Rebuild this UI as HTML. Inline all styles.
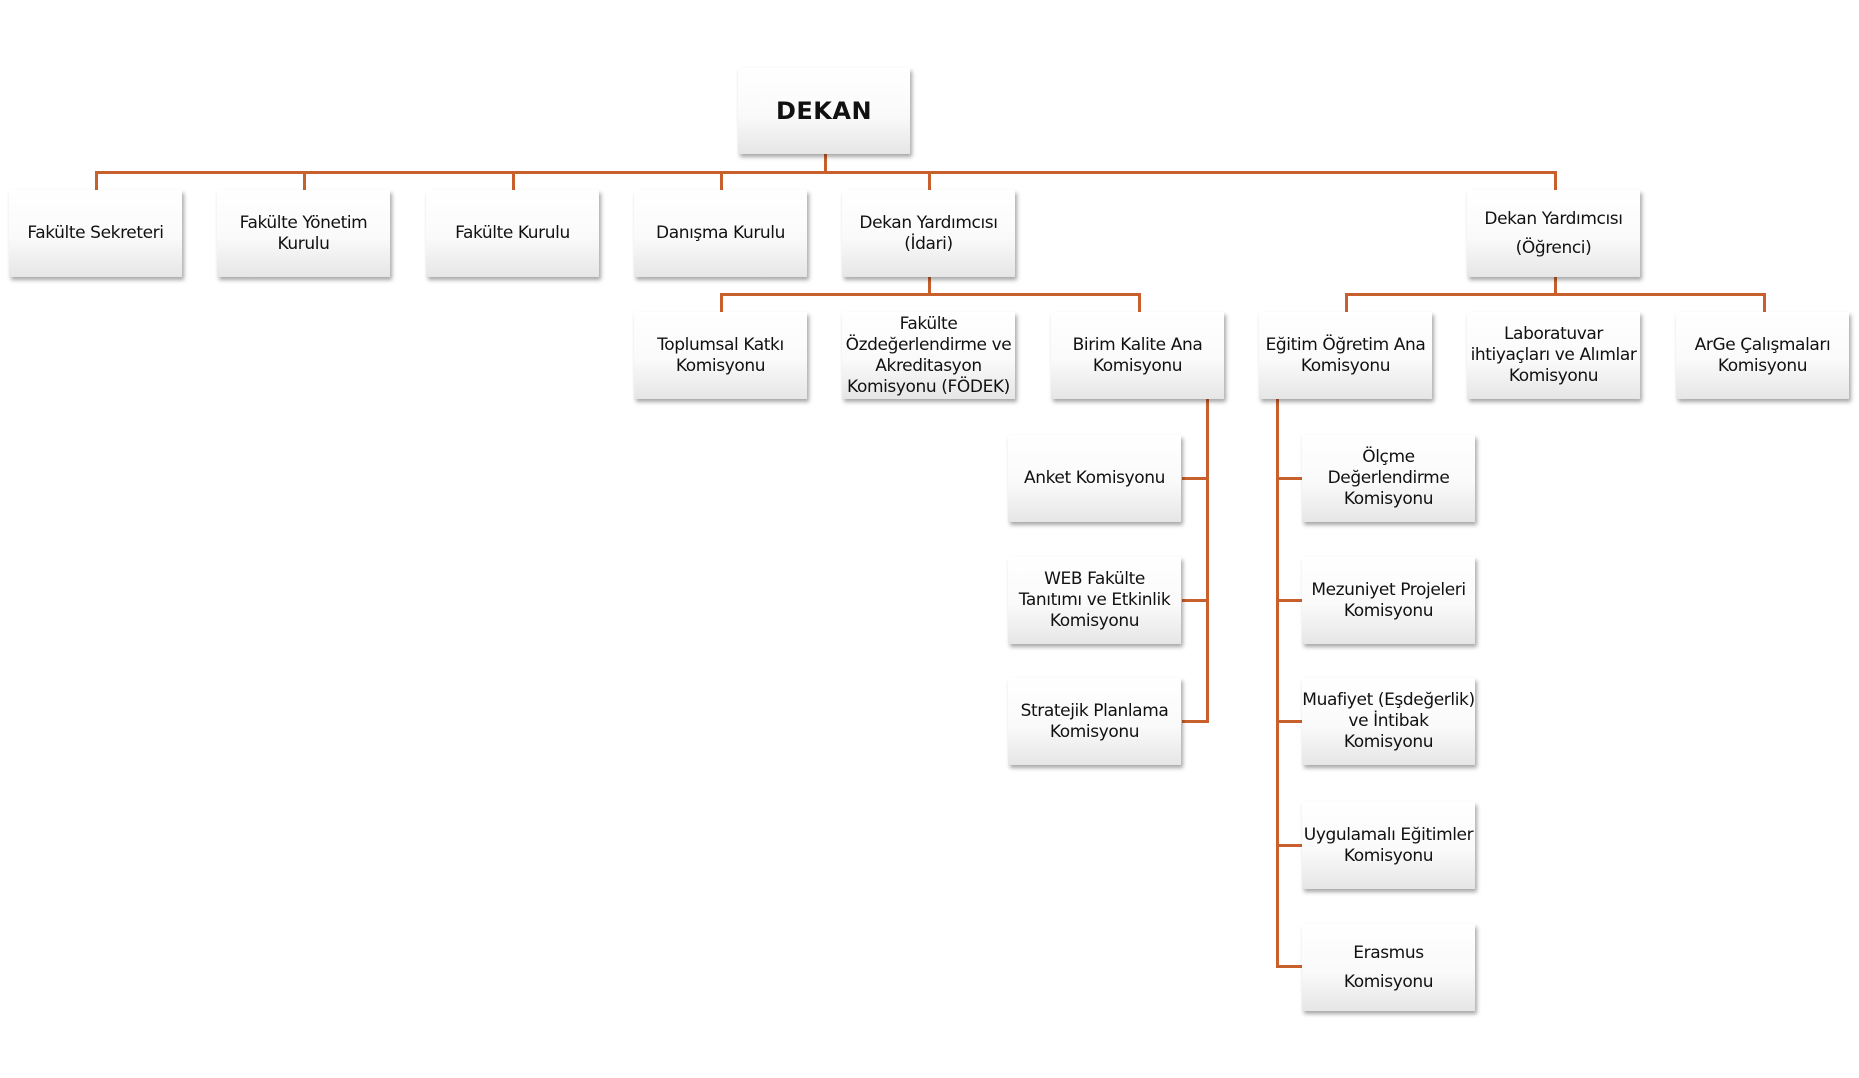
<!DOCTYPE html>
<html><head><meta charset="utf-8"><style>
body{margin:0;width:1859px;height:1078px;background:#fff;position:relative;overflow:hidden;font-family:"DejaVu Sans","Liberation Sans",sans-serif;}
.b{position:absolute;width:173px;height:87px;background:linear-gradient(#ffffff 0%,#fafafa 55%,#e6e6e6 100%);box-shadow:2px 3px 4px rgba(0,0,0,0.35);display:flex;align-items:center;justify-content:center;text-align:center;font-size:17px;line-height:21px;color:#111;letter-spacing:-0.4px;}
.l{position:absolute;background:#C8602E;}
</style></head><body>
<div class="l" style="left:824px;top:153px;width:3px;height:20px"></div>
<div class="l" style="left:95px;top:171px;width:1462px;height:3px"></div>
<div class="l" style="left:95px;top:171px;width:3px;height:20px"></div>
<div class="l" style="left:303px;top:171px;width:3px;height:20px"></div>
<div class="l" style="left:512px;top:171px;width:3px;height:20px"></div>
<div class="l" style="left:720px;top:171px;width:3px;height:20px"></div>
<div class="l" style="left:928px;top:171px;width:3px;height:20px"></div>
<div class="l" style="left:1554px;top:171px;width:3px;height:20px"></div>

<div class="l" style="left:928px;top:276px;width:3px;height:20px"></div>
<div class="l" style="left:720px;top:293px;width:421px;height:3px"></div>
<div class="l" style="left:720px;top:293px;width:3px;height:20px"></div>
<div class="l" style="left:1138px;top:293px;width:3px;height:20px"></div>

<div class="l" style="left:1554px;top:276px;width:3px;height:20px"></div>
<div class="l" style="left:1345px;top:293px;width:421px;height:3px"></div>
<div class="l" style="left:1345px;top:293px;width:3px;height:20px"></div>
<div class="l" style="left:1763px;top:293px;width:3px;height:20px"></div>

<div class="l" style="left:1206px;top:398px;width:3px;height:325px"></div>
<div class="l" style="left:1182px;top:477px;width:26px;height:3px"></div>
<div class="l" style="left:1182px;top:599px;width:26px;height:3px"></div>
<div class="l" style="left:1182px;top:720px;width:26px;height:3px"></div>

<div class="l" style="left:1276px;top:398px;width:3px;height:570px"></div>
<div class="l" style="left:1276px;top:477px;width:27px;height:3px"></div>
<div class="l" style="left:1276px;top:599px;width:27px;height:3px"></div>
<div class="l" style="left:1276px;top:720px;width:27px;height:3px"></div>
<div class="l" style="left:1276px;top:844px;width:27px;height:3px"></div>
<div class="l" style="left:1276px;top:965px;width:27px;height:3px"></div>

<div class="b" style="left:738px;top:68px;width:172px;height:86px;font-size:24px;font-weight:bold;letter-spacing:0.5px">DEKAN</div>

<div class="b" style="left:9px;top:190px">Fakülte Sekreteri</div>
<div class="b" style="left:217px;top:190px">Fakülte Yönetim<br>Kurulu</div>
<div class="b" style="left:426px;top:190px">Fakülte Kurulu</div>
<div class="b" style="left:634px;top:190px">Danışma Kurulu</div>
<div class="b" style="left:842px;top:190px">Dekan Yardımcısı<br>(İdari)</div>
<div class="b" style="left:1467px;top:190px;line-height:29px">Dekan Yardımcısı<br>(Öğrenci)</div>

<div class="b" style="left:634px;top:312px">Toplumsal Katkı<br>Komisyonu</div>
<div class="b" style="left:842px;top:312px">Fakülte<br>Özdeğerlendirme ve<br>Akreditasyon<br>Komisyonu (FÖDEK)</div>
<div class="b" style="left:1051px;top:312px">Birim Kalite Ana<br>Komisyonu</div>
<div class="b" style="left:1259px;top:312px">Eğitim Öğretim Ana<br>Komisyonu</div>
<div class="b" style="left:1467px;top:312px">Laboratuvar<br>ihtiyaçları ve Alımlar<br>Komisyonu</div>
<div class="b" style="left:1676px;top:312px">ArGe Çalışmaları<br>Komisyonu</div>

<div class="b" style="left:1008px;top:435px">Anket Komisyonu</div>
<div class="b" style="left:1008px;top:557px">WEB Fakülte<br>Tanıtımı ve Etkinlik<br>Komisyonu</div>
<div class="b" style="left:1008px;top:678px">Stratejik Planlama<br>Komisyonu</div>

<div class="b" style="left:1302px;top:435px">Ölçme<br>Değerlendirme<br>Komisyonu</div>
<div class="b" style="left:1302px;top:557px">Mezuniyet Projeleri<br>Komisyonu</div>
<div class="b" style="left:1302px;top:678px">Muafiyet (Eşdeğerlik)<br>ve İntibak<br>Komisyonu</div>
<div class="b" style="left:1302px;top:802px">Uygulamalı Eğitimler<br>Komisyonu</div>
<div class="b" style="left:1302px;top:924px;line-height:29px">Erasmus<br>Komisyonu</div>
</body></html>
